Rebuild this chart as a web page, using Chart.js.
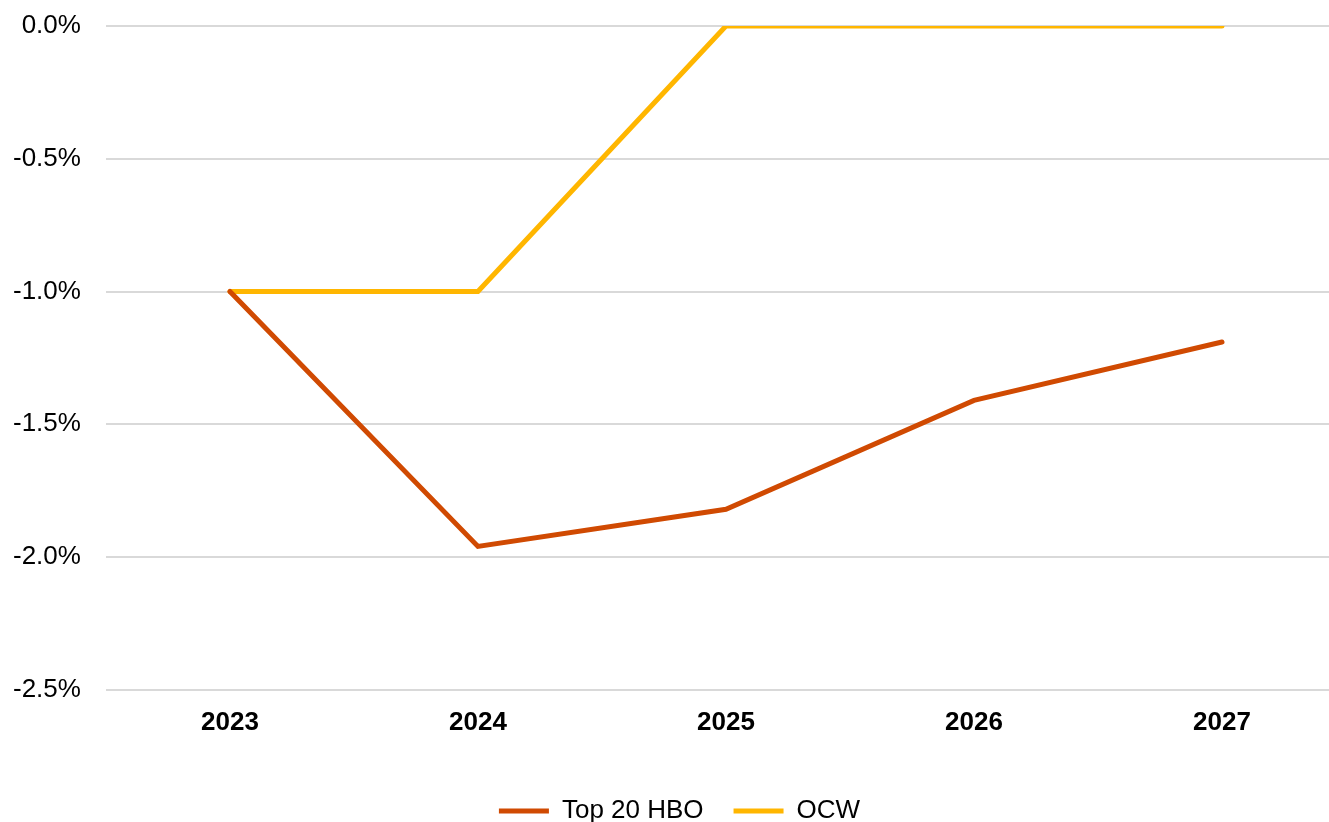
<!DOCTYPE html>
<html>
<head>
<meta charset="utf-8">
<script src="https://cdn.jsdelivr.net/npm/chart.js@4"></script>
<style>
    html, body { margin: 0; padding: 0; background: #fff; overflow: hidden; }
    #wrap { width: 1346px; height: 822px; }
</style>
</head>
<body>
<div id="wrap"><canvas id="lineChart"></canvas></div>
<script>
// Chart data
const years = ['2023', '2024', '2025', '2026', '2027'];
const top20Hbo = [-1.0, -1.96, -1.82, -1.41, -1.19];
const ocw = [-1.0, -1.0, 0.0, 0.0, 0.0];
const yTicks = [0.0, -0.5, -1.0, -1.5, -2.0, -2.5];

const font = 'Liberation Sans, Arial, sans-serif';

function createLineChart() {
    const ctx = document.getElementById('lineChart').getContext('2d');

    new Chart(ctx, {
        type: 'line',
        data: {
            labels: years,
            datasets: [
                {
                    label: 'Top 20 HBO',
                    data: top20Hbo,
                    borderColor: '#D04A02',
                    backgroundColor: '#D04A02',
                    borderWidth: 5,
                    borderCapStyle: 'round',
                    pointRadius: 0,
                    tension: 0
                },
                {
                    label: 'OCW',
                    data: ocw,
                    borderColor: '#FFB600',
                    backgroundColor: '#FFB600',
                    borderWidth: 5,
                    borderCapStyle: 'round',
                    pointRadius: 0,
                    tension: 0
                }
            ]
        },
        options: {
            responsive: true,
            maintainAspectRatio: false,
            animation: false,
            layout: {
                padding: { left: 13, right: 0, top: 26, bottom: -12 }
            },
            plugins: {
                tooltip: { enabled: false },
                legend: {
                    position: 'bottom',
                    labels: {
                        usePointStyle: true,
                        pointStyle: 'line',
                        pointStyleWidth: 50,
                        padding: 30,
                        color: '#000',
                        font: { family: font, size: 26 }
                    }
                }
            },
            scales: {
                x: {
                    offset: true,
                    grid: { display: false, drawTicks: false },
                    border: { display: false },
                    ticks: {
                        padding: 17,
                        color: '#000',
                        font: { family: font, size: 26, weight: 'bold' }
                    },
                    afterFit: axis => {
                        axis.height += 13;
                    }
                },
                y: {
                    min: -2.5,
                    max: 0,
                    afterBuildTicks: axis => {
                        axis.ticks = yTicks.map(v => ({ value: v }));
                    },
                    grid: { color: '#D9D9D9', lineWidth: 2, drawTicks: false },
                    border: { display: false },
                    ticks: {
                        padding: 25,
                        color: '#000',
                        font: { family: font, size: 26 },
                        callback: value => value.toFixed(1) + '%'
                    },
                    afterFit: axis => {
                        axis.width -= 25;
                        axis.paddingTop = 0;
                        axis.paddingBottom = 0;
                    }
                }
            }
        }
    });
}

document.addEventListener('DOMContentLoaded', () => {
    createLineChart();
});
</script>
</body>
</html>
